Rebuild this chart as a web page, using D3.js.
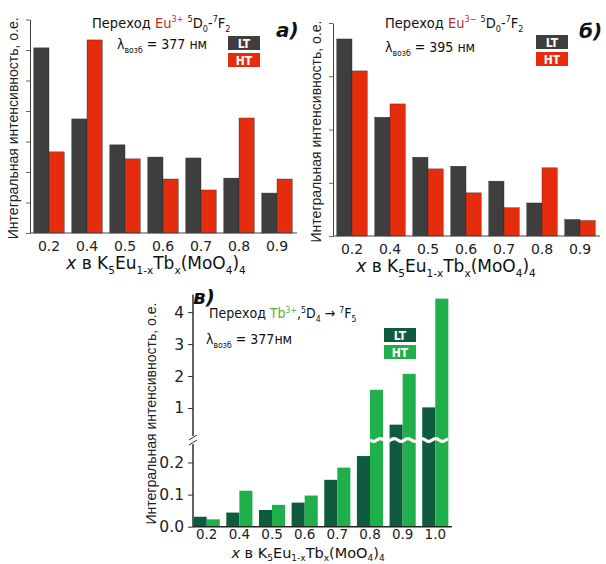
<!DOCTYPE html>
<html>
<head>
<meta charset="utf-8">
<script src="https://cdn.jsdelivr.net/npm/d3@7"></script>
<style>
  body { margin: 0; background: #fff; }
  svg { display: block; }
  .tick text { font-family: "DejaVu Sans", sans-serif; fill: #222; }
</style>
</head>
<body>
<svg id="chart" width="606" height="564"></svg>
<script>
// x values of the samples
const catsEu = ["0.2", "0.4", "0.5", "0.6", "0.7", "0.8", "0.9"];
const catsTb = ["0.2", "0.4", "0.5", "0.6", "0.7", "0.8", "0.9", "1.0"];

// а) Eu3+ 5D0-7F2, exc 377 nm (arb. units, 1 = one tick)
const ltA = [6.07, 3.74, 2.89, 2.49, 2.46, 1.80, 1.31];
const htA = [2.66, 6.33, 2.43, 1.77, 1.41, 3.77, 1.77];
// б) Eu3+ 5D0-7F2, exc 395 nm
const ltB = [3.70, 2.23, 1.48, 1.31, 1.03, 0.62, 0.31];
const htB = [3.10, 2.48, 1.26, 0.81, 0.53, 1.28, 0.29];
// в) Tb3+ 5D4-7F5, exc 377 nm
const ltC = [0.031, 0.044, 0.052, 0.075, 0.146, 0.22, 0.48, 1.02];
const htC = [0.023, 0.112, 0.068, 0.097, 0.184, 1.57, 2.07, 4.42];

const ticksLowC = [0, 0.1, 0.2];
const ticksHighC = [1, 2, 3, 4];

const svg = d3.select("#chart");
const yLabel = "Интегральная интенсивность, о.е.";

// text with sup/sub parts
const rich = (g, x, y, parts, size, family, anchor, subK = 0.28) => {
  const t = g.append("text")
    .attr("x", x).attr("y", y)
    .attr("text-anchor", anchor || "start")
    .style("font-family", family)
    .style("font-size", size + "px")
    .attr("fill", "#111");
  let shift = 0;
  parts.forEach(p => {
    const target = p.s === "sup" ? -0.38 * size : p.s === "sub" ? subK * size : 0;
    const ts = t.append("tspan").attr("dy", target - shift).text(p.t);
    if (p.s) ts.style("font-size", (size * 0.62) + "px");
    if (p.fill) ts.attr("fill", p.fill);
    if (p.it) ts.style("font-style", "italic");
    shift = target;
  });
  return t;
};

const xLabelParts = [
  {t: "x", it: true}, {t: "  в  K"}, {t: "5", s: "sub"}, {t: "Eu"}, {t: "1-x", s: "sub"},
  {t: "Tb"}, {t: "x", s: "sub"}, {t: "(MoO"}, {t: "4", s: "sub"}, {t: ")"}, {t: "4", s: "sub"}
];

const legend = (g, x, y, colors) => {
  ["LT", "HT"].forEach((name, i) => {
    g.append("rect")
      .attr("x", x).attr("y", y + i * 17)
      .attr("width", 32).attr("height", 14)
      .attr("fill", colors[i]);
    g.append("text")
      .attr("x", x + 16).attr("y", y + i * 17 + 11.5)
      .attr("text-anchor", "middle")
      .attr("fill", "#fff")
      .style("font-family", "DejaVu Sans Condensed")
      .style("font-weight", "bold")
      .style("font-size", "12px")
      .text(name);
  });
};

const panelTag = (g, x, y, s) => {
  g.append("text").attr("x", x).attr("y", y)
    .style("font-family", "DejaVu Sans")
    .style("font-weight", "bold")
    .style("font-style", "italic")
    .style("font-size", "20px")
    .attr("fill", "#111")
    .text(s);
};

const drawEu = (o) => {
  const g = svg.append("g");
  const x = d3.scaleBand().domain(catsEu).range([o.x0, o.x1])
    .paddingInner(0.2).paddingOuter(0.1);
  const xs = d3.scaleBand().domain(["LT", "HT"]).range([0, x.bandwidth()]);
  const y = d3.scaleLinear().domain([0, o.yMax]).range([o.base, o.top]);

  catsEu.forEach((c, i) => {
    [["LT", o.lt[i], "#3e3e3e"], ["HT", o.ht[i], "#e52d0e"]].forEach(([k, v, col]) => {
      g.append("rect")
        .attr("x", x(c) + xs(k)).attr("y", y(v))
        .attr("width", xs.bandwidth()).attr("height", y(0) - y(v))
        .attr("fill", col).attr("stroke", "#2a2a2a").attr("stroke-width", 0.4);
    });
  });

  const ya = g.append("g").attr("transform", `translate(${o.x0},0)`)
    .call(d3.axisLeft(y).ticks(o.yMax).tickSize(4).tickSizeOuter(0).tickFormat(""));
  ya.select(".domain").attr("stroke", "#444");
  ya.selectAll(".tick line").attr("stroke", "#666");

  const xa = g.append("g").attr("transform", `translate(0,${o.base})`)
    .call(d3.axisBottom(x).tickSize(0).tickPadding(8));
  xa.select(".domain").attr("stroke", "#444").attr("d", `M${o.x0},0H${o.x1 + 1}`);
  xa.selectAll(".tick text").style("font-size", "14px");

  rich(g, o.xlc, o.base + 36, xLabelParts, 17, "DejaVu Sans", "middle");

  g.append("text")
    .attr("transform", `translate(${o.x0 - 12},${(o.base + o.top) / 2 + 2}) rotate(-90)`)
    .attr("text-anchor", "middle")
    .style("font-family", "Liberation Sans")
    .style("font-size", "14px")
    .attr("fill", "#222")
    .text(yLabel);

  rich(g, o.tx, o.ty, [
    {t: "Переход "}, {t: "Eu", fill: "#b3302a"}, {t: o.charge, s: "sup", fill: "#b3302a"},
    {t: " "}, {t: "5", s: "sup"}, {t: "D"}, {t: "0", s: "sub"}, {t: "-"},
    {t: "7", s: "sup"}, {t: "F"}, {t: "2", s: "sub"}
  ], 14.5, "DejaVu Sans Condensed");
  rich(g, o.lx, o.ly, [
    {t: "λ"}, {t: "возб", s: "sub"}, {t: " = " + o.lambda + " нм"}
  ], 14, "DejaVu Sans Condensed");

  legend(g, o.legX, o.legY, ["#3e3e3e", "#e52d0e"]);
  panelTag(g, o.tagX, o.tagY, o.tag);
};

drawEu({x0: 30, x1: 296, base: 233, top: 19.5, yMax: 7, lt: ltA, ht: htA,
  charge: "3+", lambda: "377", tx: 92, ty: 28, lx: 117, ly: 49, xlc: 156,
  legX: 228, legY: 36, tag: "а)", tagX: 276, tagY: 37});
drawEu({x0: 333, x1: 599, base: 236, top: 23, yMax: 4, lt: ltB, ht: htB,
  charge: "3−", lambda: "395", tx: 385, ty: 28, lx: 385, ly: 52, xlc: 446,
  legX: 536, legY: 35, tag: "б)", tagX: 579, tagY: 38});

// в) broken y axis
(() => {
  const g = svg.append("g");
  const x0 = 193, x1 = 449, base = 526.7, brk = 440, top = 294.5;
  const x = d3.scaleBand().domain(catsTb).range([x0, x1])
    .paddingInner(0.2).paddingOuter(0.02);
  const xs = d3.scaleBand().domain(["LT", "HT"]).range([0, x.bandwidth()]);
  const yLow = d3.scaleLinear().domain([0, 0.27]).range([base, brk]);
  const yHigh = d3.scaleLinear().domain([0, 4.55]).range([brk, top]);
  const y = v => v <= 0.27 ? yLow(v) : yHigh(v);
  const cLT = "#0f5b3e", cHT = "#1fb04c";

  catsTb.forEach((c, i) => {
    [["LT", ltC[i], cLT], ["HT", htC[i], cHT]].forEach(([k, v, col]) => {
      g.append("rect")
        .attr("x", x(c) + xs(k)).attr("y", y(v))
        .attr("width", xs.bandwidth()).attr("height", base - y(v))
        .attr("fill", col);
    });
  });

  // wavy break through the tall bars
  const wx0 = x("0.8") + xs("HT"), wx1 = x("1.0") + x.bandwidth();
  const pts = d3.range(wx0, wx1 + 0.5, 2).map(px => [px, brk + 1.6 * Math.sin((px - wx0) / 2.2)]);
  g.append("path").attr("d", d3.line().curve(d3.curveBasis)(pts))
    .attr("fill", "none").attr("stroke", "#fff").attr("stroke-width", 3.2);

  const la = g.append("g").attr("transform", `translate(${x0},0)`)
    .call(d3.axisLeft(yLow).tickValues(ticksLowC).tickSize(5).tickSizeOuter(0).tickFormat(d3.format(".1f")));
  la.select(".domain").attr("stroke", "#222").attr("stroke-width", 1.4).attr("d", `M0,${base}V${brk + 4}`);
  const ha = g.append("g").attr("transform", `translate(${x0},0)`)
    .call(d3.axisLeft(yHigh).tickValues(ticksHighC).tickSize(5).tickSizeOuter(0).tickFormat(d3.format("d")));
  ha.select(".domain").attr("stroke", "#222").attr("stroke-width", 1.4).attr("d", `M0,${brk - 4}V${top}`);
  g.selectAll(".tick text").style("font-size", "15.5px").attr("dx", "-1");
  g.selectAll(".tick line").attr("stroke", "#333");

  // axis break mark
  [-2.5, 2.5].forEach(d => {
    g.append("line")
      .attr("x1", x0 - 4).attr("y1", brk + d + 2.5)
      .attr("x2", x0 + 4).attr("y2", brk + d - 2.5)
      .attr("stroke", "#333").attr("stroke-width", 1);
  });

  const xa = g.append("g").attr("transform", `translate(0,${base})`)
    .call(d3.axisBottom(x).tickSize(0).tickPadding(3));
  xa.select(".domain").attr("stroke", "#222").attr("stroke-width", 1.4).attr("d", `M${x0},0H${x1 + 3}`);
  xa.selectAll(".tick text").style("font-size", "13.5px");

  rich(g, 308, 558, xLabelParts, 14.5, "DejaVu Sans", "middle", 0.2);

  g.append("text")
    .attr("transform", `translate(${156},${(base + top) / 2 + 3}) rotate(-90)`)
    .attr("text-anchor", "middle")
    .style("font-family", "Liberation Sans")
    .style("font-size", "14px")
    .attr("fill", "#222")
    .text(yLabel);

  rich(g, 209, 318, [
    {t: "Переход "}, {t: "Tb", fill: "#5cae3c"}, {t: "3+", s: "sup", fill: "#5cae3c"},
    {t: ","}, {t: "5", s: "sup"}, {t: "D"}, {t: "4", s: "sub"}, {t: " → "},
    {t: "7", s: "sup"}, {t: "F"}, {t: "5", s: "sub"}
  ], 14, "DejaVu Sans Condensed");
  rich(g, 206, 344, [
    {t: "λ"}, {t: "возб", s: "sub"}, {t: " = 377нм"}
  ], 14, "DejaVu Sans Condensed");

  legend(g, 384, 328, [cLT, cHT]);
  panelTag(g, 193, 304, "в)");
})();
</script>
</body>
</html>
